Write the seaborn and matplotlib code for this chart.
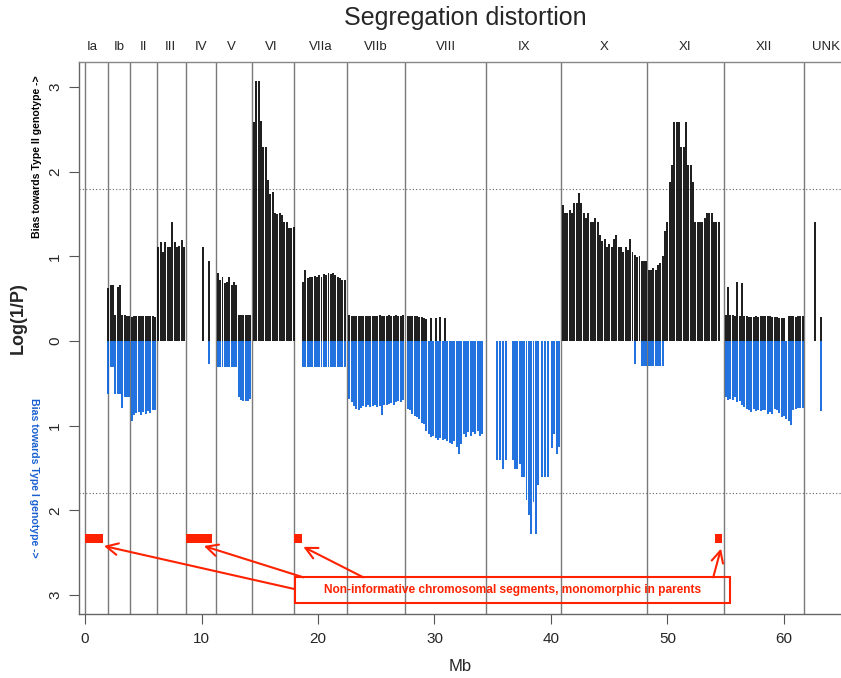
import numpy as np
import pandas as pd
import matplotlib
matplotlib.use("Agg")
import matplotlib.pyplot as plt
from matplotlib.patches import Rectangle
from matplotlib.transforms import blended_transform_factory
import seaborn as sns

# ---------------- data ----------------
chrom_names = ['Ia', 'Ib', 'II', 'III', 'IV', 'V', 'VI', 'VIIa', 'VIIb', 'VIII', 'IX', 'X', 'XI', 'XII', 'UNK']
chrom_starts = [0.0, 1.93, 3.9, 6.15, 8.63, 11.25, 14.37, 17.95, 22.5, 27.5, 34.44, 40.82, 48.26, 54.82, 61.75]
chrom_label_x = [0.64, 2.94, 5.05, 7.35, 9.92, 12.53, 16.02, 20.2, 24.98, 30.99, 37.65, 44.54, 51.52, 58.31, 63.59]

ib_pos = [2.0, 2.2, 2.4, 2.6, 2.8, 3.0, 3.2, 3.4, 3.6, 3.8]
ib_up = [0.62, 0.66, 0.66, 0.31, 0.64, 0.66, 0.31, 0.31, 0.30, 0.30]
ib_down = [0.62, 0.31, 0.31, 0.62, 0.62, 0.62, 0.79, 0.66, 0.66, 0.66]

ii_pos = [4.0, 4.2, 4.4, 4.6, 4.8, 5.0, 5.2, 5.4, 5.6, 5.8, 6.0]
ii_up = [0.28, 0.29, 0.30, 0.29, 0.30, 0.30, 0.30, 0.30, 0.30, 0.29, 0.28]
ii_down = [0.95, 0.87, 0.85, 0.84, 0.87, 0.84, 0.86, 0.83, 0.85, 0.82, 0.82]

iii_pos = [6.3, 6.5, 6.7, 6.9, 7.1, 7.3, 7.5, 7.7, 7.9, 8.1, 8.3, 8.5]
iii_up = [1.11, 1.17, 1.05, 1.17, 1.11, 1.11, 1.41, 1.17, 1.11, 1.12, 1.19, 1.11]
iii_down = [0, 0, 0, 0, 0, 0, 0, 0, 0, 0, 0, 0]

iv_pos = [10.15, 10.6]
iv_up = [1.11, 0.94]
iv_down = [0, 0.27]

v_pos = [11.4, 11.6, 11.8, 12.0, 12.2, 12.4, 12.6, 12.8, 13.0, 13.2, 13.4, 13.6, 13.8, 14.0, 14.2]
v_up = [0.80, 0.72, 0.76, 0.68, 0.70, 0.75, 0.66, 0.70, 0.66, 0.31, 0.31, 0.31, 0.31, 0.31, 0.31]
v_down = [0.31, 0.31, 0.31, 0.31, 0.31, 0.31, 0.31, 0.31, 0.31, 0.66, 0.70, 0.71, 0.71, 0.71, 0.69]

vi_pos = [14.5, 14.7, 14.9, 15.1, 15.3, 15.5, 15.7, 15.9, 16.1, 16.3, 16.5, 16.7, 16.9, 17.1, 17.3, 17.5, 17.7, 17.9]
vi_up = [2.59, 3.07, 3.07, 2.60, 2.29, 2.29, 1.90, 1.74, 1.76, 1.51, 1.50, 1.51, 1.49, 1.41, 1.41, 1.33, 1.33, 1.35]
vi_down = [0] * 18

viia_pos = [18.7, 18.9, 19.1, 19.3, 19.5, 19.7, 19.9, 20.1, 20.3, 20.5, 20.7, 20.9, 21.1, 21.3, 21.5, 21.7, 21.9, 22.1, 22.3]
viia_up = [0.70, 0.84, 0.74, 0.76, 0.75, 0.77, 0.75, 0.78, 0.75, 0.79, 0.78, 0.80, 0.79, 0.80, 0.78, 0.76, 0.74, 0.72, 0.72]
viia_down = [0.31, 0.31, 0.31, 0.31, 0.31, 0.31, 0.31, 0.31, 0.31, 0.31, 0.31, 0.31, 0.31, 0.31, 0.31, 0.31, 0.31, 0.31, 0.31]

viib_pos = [22.7, 22.9, 23.1, 23.3, 23.5, 23.7, 23.9, 24.1, 24.3, 24.5, 24.7, 24.9, 25.1, 25.3, 25.5, 25.7,
            25.9, 26.1, 26.3, 26.5, 26.7, 26.9, 27.1, 27.3]
viib_up = [0.31, 0.30, 0.30, 0.29, 0.30, 0.30, 0.29, 0.30, 0.30, 0.30, 0.29, 0.30, 0.30, 0.31, 0.30, 0.30,
           0.30, 0.31, 0.30, 0.30, 0.31, 0.30, 0.30, 0.31]
viib_down = [0.68, 0.72, 0.77, 0.80, 0.81, 0.79, 0.77, 0.78, 0.76, 0.78, 0.77, 0.76, 0.78, 0.77, 0.87, 0.76,
             0.75, 0.74, 0.73, 0.75, 0.72, 0.71, 0.72, 0.70]

viii_pos = [27.7, 27.9, 28.1, 28.3, 28.5, 28.7, 28.9, 29.1, 29.3, 29.5, 29.7, 29.9, 30.1, 30.3, 30.5, 30.7,
            30.9, 31.1, 31.3, 31.5, 31.7, 31.9, 32.1, 32.3, 32.5, 32.7, 32.9, 33.1, 33.3, 33.5, 33.7, 33.9, 34.1]
viii_up = [0.30, 0.30, 0.30, 0.29, 0.29, 0.28, 0.28, 0.27, 0.26, 0, 0.27, 0, 0.27, 0, 0.28, 0,
           0.27, 0, 0, 0, 0, 0, 0, 0, 0, 0, 0, 0, 0, 0, 0, 0, 0]
viii_down = [0.80, 0.82, 0.86, 0.88, 0.90, 0.92, 0.97, 0.98, 1.06, 1.10, 1.13, 1.12, 1.15, 1.17, 1.14, 1.17,
             1.16, 1.18, 1.20, 1.22, 1.18, 1.25, 1.33, 1.22, 1.10, 1.13, 1.08, 1.12, 1.07, 1.10, 1.06, 1.12, 1.10]

ix_pos = [35.4, 35.6, 35.85, 36.1, 36.7, 36.9, 37.1, 37.3, 37.5, 37.7, 37.9, 38.1, 38.3, 38.5, 38.7, 38.9,
          39.2, 39.45, 39.75, 40.05, 40.3, 40.5, 40.7]
ix_up = [0] * 23
ix_down = [1.41, 1.41, 1.51, 1.41, 1.41, 1.51, 1.51, 1.45, 1.60, 1.60, 1.88, 2.05, 2.28, 1.90, 2.28, 1.70,
           1.60, 1.60, 1.60, 1.26, 1.10, 1.33, 1.25]

x_pos = [41.0, 41.2, 41.4, 41.6, 41.8, 42.0, 42.2, 42.4, 42.6, 42.8, 43.0, 43.2, 43.4, 43.6, 43.8, 44.0,
         44.2, 44.4, 44.6, 44.8, 45.0, 45.2, 45.4, 45.6, 45.8, 46.0, 46.2, 46.4, 46.6, 46.8, 47.0, 47.2,
         47.4, 47.6, 47.8, 48.0, 48.2]
x_up = [1.60, 1.51, 1.51, 1.55, 1.51, 1.63, 1.63, 1.75, 1.63, 1.51, 1.45, 1.51, 1.41, 1.41, 1.45, 1.41,
        1.25, 1.18, 1.20, 1.11, 1.15, 1.11, 1.20, 1.25, 1.11, 1.11, 1.05, 1.11, 1.08, 1.20, 1.05, 1.02,
        0.99, 1.00, 0.95, 0.94, 0.94]
x_down = [0, 0, 0, 0, 0, 0, 0, 0, 0, 0, 0, 0, 0, 0, 0, 0,
          0, 0, 0, 0, 0, 0, 0, 0, 0, 0, 0, 0, 0, 0, 0, 0.27,
          0, 0, 0.29, 0.29, 0.29]

xi_pos = [48.4, 48.6, 48.8, 49.0, 49.2, 49.4, 49.6, 49.8, 50.0, 50.2, 50.4, 50.6, 50.8, 51.0, 51.2, 51.4,
          51.6, 51.8, 52.0, 52.2, 52.4, 52.6, 52.8, 53.0, 53.2, 53.4, 53.6, 53.8, 54.0, 54.2, 54.4]
xi_up = [0.84, 0.84, 0.86, 0.84, 0.90, 0.92, 1.00, 1.30, 1.41, 1.88, 2.08, 2.59, 2.59, 2.59, 2.29, 2.29,
         2.59, 2.08, 2.08, 1.88, 1.41, 1.41, 1.41, 1.41, 1.45, 1.51, 1.51, 1.51, 1.41, 1.41, 1.41]
xi_down = [0.29, 0.29, 0.29, 0.29, 0.29, 0.29, 0.29, 0, 0, 0, 0, 0, 0, 0, 0, 0,
           0, 0, 0, 0, 0, 0, 0, 0, 0, 0, 0, 0, 0, 0, 0]

xii_pos = [55.0, 55.2, 55.4, 55.6, 55.8, 56.0, 56.2, 56.4, 56.6, 56.8, 57.0, 57.2, 57.4, 57.6, 57.8, 58.0,
           58.2, 58.4, 58.6, 58.8, 59.0, 59.2, 59.4, 59.6, 59.8, 60.0, 60.2, 60.4, 60.6, 60.8, 61.0, 61.2,
           61.4, 61.6]
xii_up = [0.31, 0.64, 0.31, 0.31, 0.30, 0.70, 0.30, 0.69, 0.29, 0.29, 0.28, 0.28, 0.28, 0.29, 0.28, 0.29,
          0.29, 0.29, 0.29, 0.29, 0.28, 0.28, 0.28, 0.27, 0.27, 0.27, 0, 0.29, 0.29, 0.29, 0.28, 0.29,
          0.29, 0.29]
xii_down = [0.66, 0.70, 0.68, 0.70, 0.66, 0.72, 0.71, 0.75, 0.78, 0.80, 0.82, 0.84, 0.80, 0.83, 0.82, 0.83,
            0.81, 0.82, 0.86, 0.84, 0.86, 0.80, 0.82, 0.85, 0.90, 0.88, 0.92, 0.95, 0.99, 0.82, 0.80, 0.79,
            0.79, 0.79]

unk_pos = [62.65, 63.15]
unk_up = [1.41, 0.28]
unk_down = [0, 0.83]

threshold = 1.8

# non-informative segments (start, end in Mb) and their vertical band
red_start = [0.0, 8.67, 17.97, 54.08]
red_end = [1.57, 10.87, 18.6, 54.7]
red_band = (-2.39, -2.28)

note_text = "Non-informative chromosomal segments, monomorphic in parents"
note_box = (18.03, 55.36, -3.09, -2.79)  # x0, x1, y0, y1
arrow_tail_x = [18.03, 18.74, 23.89, 53.93]
arrow_tail_y = [-2.93, -2.79, -2.79, -2.79]
arrow_head_x = [1.62, 10.2, 18.74, 54.6]
arrow_head_y = [-2.42, -2.42, -2.43, -2.45]

# ---------------- assemble ----------------
all_pos = (ib_pos + ii_pos + iii_pos + iv_pos + v_pos + vi_pos + viia_pos + viib_pos + viii_pos +
           ix_pos + x_pos + xi_pos + xii_pos + unk_pos)
all_up = (ib_up + ii_up + iii_up + iv_up + v_up + vi_up + viia_up + viib_up + viii_up +
          ix_up + x_up + xi_up + xii_up + unk_up)
all_down = (ib_down + ii_down + iii_down + iv_down + v_down + vi_down + viia_down + viib_down + viii_down +
            ix_down + x_down + xi_down + xii_down + unk_down)
df = pd.DataFrame({"pos": all_pos, "up": all_up, "down": all_down})
df_up = df[df["up"] > 0].copy()
df_dn = df[df["down"] > 0].copy()
df_dn["neg"] = -df_dn["down"]

# ---------------- plotting ----------------
sns.set_style("ticks")
plt.rcParams['font.family'] = ['Liberation Sans', 'DejaVu Sans']
narrow = ['Liberation Sans Narrow', 'Liberation Sans', 'DejaVu Sans']

fig = plt.figure(figsize=(8.41, 6.78), dpi=100)
ax = fig.add_axes([79 / 841, 64 / 678, 762 / 841, 552 / 678])

grey = '#7a7a7a'
for xs in chrom_starts:
    ax.axvline(xs, color=grey, lw=1.0, zorder=1)
for yv in (threshold, -threshold):
    ax.axhline(yv, color='#666666', lw=0.8, ls=(0, (1, 2)), zorder=1)

sns.barplot(data=df_up, x="pos", y="up", native_scale=True, width=0.85, color='#0d0d0d',
            saturation=1, errorbar=None, linewidth=0, alpha=0.92, ax=ax, zorder=2)
sns.barplot(data=df_dn, x="pos", y="neg", native_scale=True, width=0.85, color='#0a64dc',
            saturation=1, errorbar=None, linewidth=0, alpha=0.9, ax=ax, zorder=2)

for s, e in zip(red_start, red_end):
    ax.add_patch(Rectangle((s, red_band[0]), e - s, red_band[1] - red_band[0],
                           facecolor='#ff2200', edgecolor='none', zorder=3))

bx0, bx1, by0, by1 = note_box
ax.add_patch(Rectangle((bx0, by0), bx1 - bx0, by1 - by0, facecolor='none',
                       edgecolor='#ff2200', lw=1.5, zorder=4))
ax.text((bx0 + bx1) / 2, (by0 + by1) / 2, note_text, color='#ff2200', fontsize=8.6,
        fontweight='bold', ha='center', va='center', zorder=5)
for tx, ty, hx, hy in zip(arrow_tail_x, arrow_tail_y, arrow_head_x, arrow_head_y):
    ax.annotate('', xy=(hx, hy), xytext=(tx, ty),
                arrowprops=dict(arrowstyle='->,head_length=0.7,head_width=0.35', color='#ff2200',
                                lw=1.5, mutation_scale=12, shrinkA=0, shrinkB=0), zorder=5)

ax.set_xlim(-0.52, 64.9)
ax.set_ylim(-3.223, 3.294)

ax.set_xticks([0, 10, 20, 30, 40, 50, 60])
ax.set_xticklabels(['0', '10', '20', '30', '40', '50', '60'], family=narrow, fontsize=11)
ax.set_yticks([-3, -2, -1, 0, 1, 2, 3])
ax.set_yticklabels(['3', '2', '1', '0', '1', '2', '3'], rotation=90, va='center',
                   family=narrow, fontsize=11)
ax.tick_params(axis='both', direction='out', length=7, width=0.8, color='#555555')
ax.tick_params(axis='x', pad=6)
ax.tick_params(axis='y', pad=5)
ax.set_xlabel('Mb', family=narrow, fontsize=12, labelpad=9)
ax.set_ylabel('')

for side in ('left', 'bottom'):
    ax.spines[side].set_color('#666666')
    ax.spines[side].set_linewidth(1.0)
ax.spines['right'].set_visible(False)
ax.spines['top'].set_color('#888888')
ax.spines['top'].set_linestyle((0, (1, 1)))
ax.spines['top'].set_linewidth(1.0)

trans = blended_transform_factory(ax.transData, ax.transAxes)
for name, lx in zip(chrom_names, chrom_label_x):
    ax.text(lx, 1.027, name, transform=trans, ha='center', va='center',
            family=narrow, fontsize=9.5, clip_on=False)

fig.text(465 / 841, 1 - 18 / 678, 'Segregation distortion', ha='center', va='center',
         family=narrow, fontsize=18)
fig.text(18 / 841, 1 - 318 / 678, 'Log(1/P)', rotation=90, ha='center', va='center',
         fontsize=13, fontweight='bold')
fig.text(37 / 841, 1 - 157 / 678, 'Bias towards Type II genotype ->', rotation=90,
         ha='center', va='center', fontsize=7.6, fontweight='bold', color='black')
fig.text(34 / 841, 1 - 478 / 678, 'Bias towards Type I genotype ->', rotation=270,
         ha='center', va='center', fontsize=7.6, fontweight='bold', color='#1a5fd0')

fig.savefig('out.png', dpi=100)
